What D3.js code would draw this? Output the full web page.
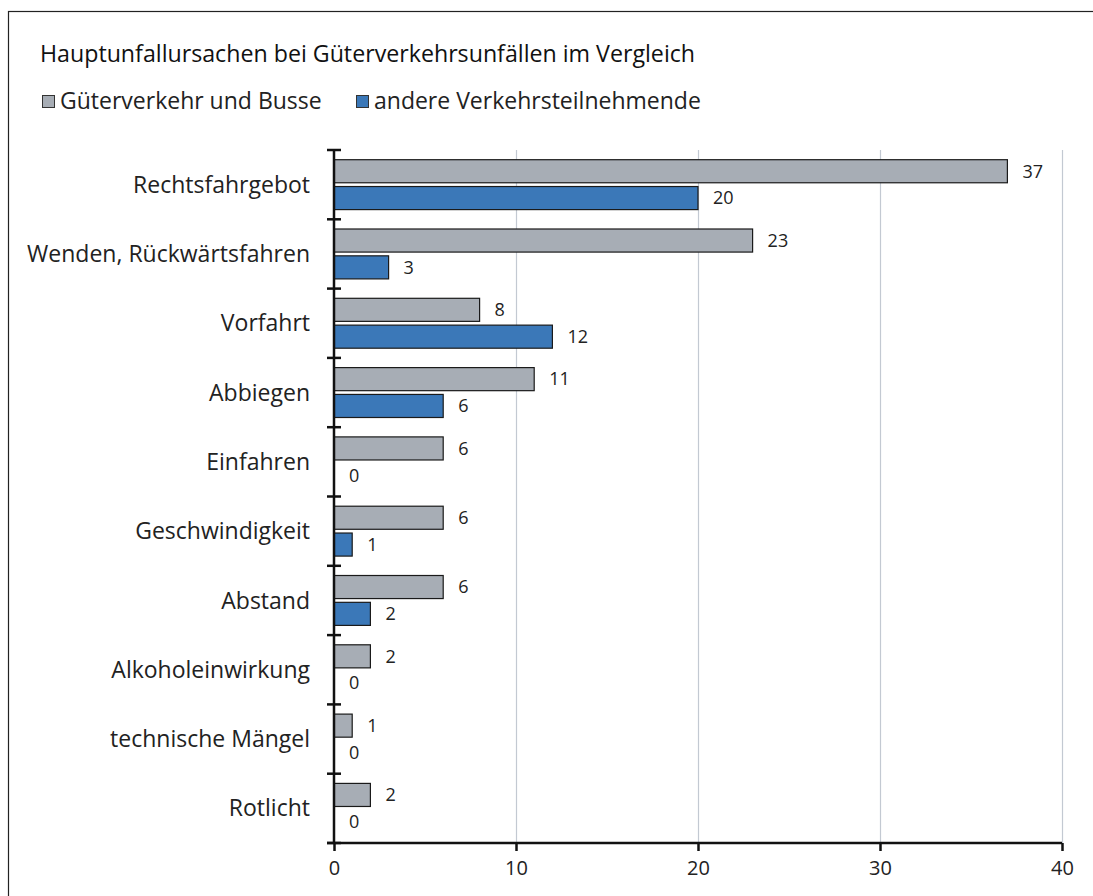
<!DOCTYPE html>
<html>
<head>
<meta charset="utf-8">
<script src="https://cdn.jsdelivr.net/npm/d3@7"></script>
<style>
  body { margin: 0; background: #fff; }
  svg { display: block; }
</style>
</head>
<body>
<div id="chart"></div>
<script>
var categories = ["Rechtsfahrgebot", "Wenden, Rückwärtsfahren", "Vorfahrt", "Abbiegen", "Einfahren",
  "Geschwindigkeit", "Abstand", "Alkoholeinwirkung", "technische Mängel", "Rotlicht"];
var seriesNames = ["Güterverkehr und Busse", "andere Verkehrsteilnehmende"];
var gueterverkehr = [37, 23, 8, 11, 6, 6, 6, 2, 1, 2];
var andere = [20, 3, 12, 6, 0, 1, 2, 0, 0, 0];
var xTicks = [0, 10, 20, 30, 40];
var colors = ["#a7adb5", "#3b78b8"];

var width = 1093, height = 896;
var margin = { top: 150, right: 31, bottom: 53, left: 334 };
var chartWidth = width - margin.left - margin.right;
var chartHeight = height - margin.top - margin.bottom;
var labelFont = "Open Sans, sans-serif";

var svg = d3.select("#chart").append("svg")
  .attr("width", width)
  .attr("height", height);

// frame
svg.append("rect")
  .attr("x", 8.5).attr("y", 11.5)
  .attr("width", width).attr("height", height)
  .attr("fill", "none").attr("stroke", "#222").attr("stroke-width", 1.2);

svg.append("text")
  .attr("x", 40).attr("y", 62)
  .attr("font-family", labelFont)
  .attr("font-size", 23.2)
  .attr("fill", "#111")
  .text("Hauptunfallursachen bei Güterverkehrsunfällen im Vergleich");

// legend
var legendX = [42, 356];
seriesNames.forEach((name, i) => {
  svg.append("rect")
    .attr("x", legendX[i] + 0.5).attr("y", 95.5)
    .attr("width", 12).attr("height", 12)
    .attr("fill", colors[i]).attr("stroke", "#333").attr("stroke-width", 1);
  svg.append("text")
    .attr("x", legendX[i] + 18).attr("y", 109)
    .attr("font-family", labelFont)
    .attr("font-size", 23)
    .attr("fill", "#222")
    .text(name);
});

var g = svg.append("g")
  .attr("transform", `translate(${margin.left}, ${margin.top})`);

var xScale = d3.scaleLinear().domain([0, 40]).range([0, chartWidth]);

var yScale = d3.scaleBand()
  .domain(categories)
  .range([0, chartHeight])
  .paddingInner(0.28)
  .paddingOuter(0.14);

var innerScale = d3.scaleBand()
  .domain([0, 1])
  .range([0, yScale.bandwidth()])
  .paddingInner(0.14);

// gridlines
g.append("g")
  .selectAll("line")
  .data(xTicks.filter(d => d > 0))
  .enter()
  .append("line")
  .attr("x1", d => Math.round(xScale(d)) + 0.5)
  .attr("x2", d => Math.round(xScale(d)) + 0.5)
  .attr("y1", 0)
  .attr("y2", chartHeight)
  .attr("stroke", "#c3c9d2")
  .attr("stroke-width", 1.2);

var data = categories.map((c, i) => ({ cat: c, values: [gueterverkehr[i], andere[i]] }));

var groups = g.append("g").attr("class", "bars")
  .selectAll("g")
  .data(data)
  .enter()
  .append("g")
  .attr("transform", d => `translate(0, ${yScale(d.cat)})`);

groups.selectAll("rect")
  .data(d => d.values.map((v, i) => ({ v: v, i: i })))
  .enter()
  .filter(d => d.v > 0)
  .append("rect")
  .attr("x", 0)
  .attr("y", d => innerScale(d.i))
  .attr("width", d => xScale(d.v))
  .attr("height", innerScale.bandwidth())
  .attr("fill", d => colors[d.i])
  .attr("stroke", "#1a1a1a")
  .attr("stroke-width", 1.2);

groups.selectAll("text")
  .data(d => d.values.map((v, i) => ({ v: v, i: i })))
  .enter()
  .append("text")
  .attr("x", d => xScale(d.v) + 15)
  .attr("y", d => innerScale(d.i) + innerScale.bandwidth() / 2)
  .attr("dy", "0.35em")
  .attr("font-family", labelFont)
  .attr("font-size", 18)
  .attr("fill", "#222")
  .text(d => d.v);

// y axis: line with boundary ticks crossing it
var yAxisG = g.append("g").attr("class", "y axis");
yAxisG.append("line")
  .attr("x1", 0).attr("x2", 0)
  .attr("y1", 0).attr("y2", chartHeight)
  .attr("stroke", "#111").attr("stroke-width", 2.5);
var boundaries = d3.range(categories.length + 1).map(i => i * yScale.step());
yAxisG.selectAll(".tick")
  .data(boundaries)
  .enter()
  .append("line")
  .attr("x1", -7).attr("x2", 7)
  .attr("y1", d => d).attr("y2", d => d)
  .attr("stroke", "#111").attr("stroke-width", 2.5);

yAxisG.selectAll(".label")
  .data(categories)
  .enter()
  .append("text")
  .attr("x", -24)
  .attr("y", d => yScale(d) + yScale.bandwidth() / 2)
  .attr("dy", "0.35em")
  .attr("text-anchor", "end")
  .attr("font-family", labelFont)
  .attr("font-size", 23)
  .attr("fill", "#222")
  .text(d => d);

// x axis
var xAxis = d3.axisBottom(xScale).tickValues(xTicks).tickSize(8).tickSizeOuter(0);
var xAxisG = g.append("g")
  .attr("class", "x axis")
  .attr("transform", `translate(0, ${chartHeight})`)
  .call(xAxis);
xAxisG.select(".domain").attr("stroke", "#111").attr("stroke-width", 2.5)
  .attr("d", `M-7,0H${chartWidth}`);
xAxisG.selectAll(".tick line").attr("stroke", "#111").attr("stroke-width", 2.5);
xAxisG.selectAll(".tick text")
  .attr("y", 18)
  .attr("font-family", labelFont)
  .attr("font-size", 20)
  .attr("fill", "#222");
</script>
</body>
</html>
